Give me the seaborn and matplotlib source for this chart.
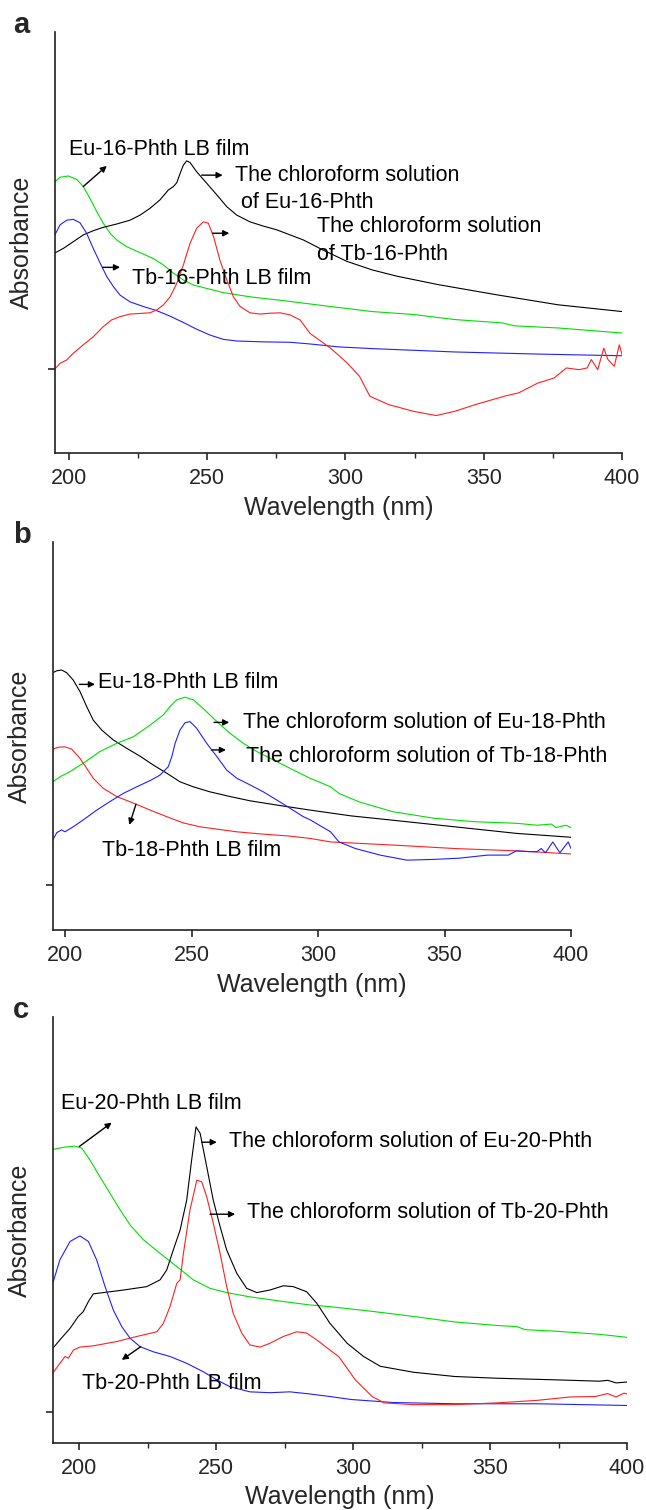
import pandas as pd
import matplotlib.pyplot as plt
import seaborn as sns
from matplotlib.ticker import MultipleLocator

# ---- panel a (x in nm, y = absorbance, arbitrary units) ----
a_eu_film_x = [194.6, 196.8, 199.8, 202.8, 205.2, 207.6, 210.1, 212.4, 214.9, 217.3, 220.9, 225.7, 230.5,
               234.1, 237.8, 241.4, 245.0, 249.8, 255.8, 265.5, 277.5, 287.2, 294.6, 309.6, 324.6, 339.5,
               356.7, 361.2, 376.9, 400]
a_eu_film_y = [0.642, 0.655, 0.658, 0.650, 0.633, 0.605, 0.573, 0.546, 0.522, 0.506, 0.490, 0.476, 0.462,
               0.447, 0.427, 0.411, 0.399, 0.391, 0.381, 0.371, 0.362, 0.354, 0.348, 0.336, 0.329, 0.317,
               0.309, 0.302, 0.297, 0.285]
a_eu_sol_x = [194.6, 198.0, 201.6, 205.2, 208.8, 212.4, 217.3, 222.1, 225.7, 229.3, 232.9, 236.0, 237.8, 239.0,
              240.2, 241.4, 242.6, 243.8, 246.2, 249.8, 253.5, 257.1, 260.7, 265.5, 270.3, 275.2, 280.0, 284.8,
              287.2, 291.6, 300.6, 309.6, 318.6, 333.5, 354.5, 376.9, 400]
a_eu_sol_y = [0.474, 0.486, 0.502, 0.518, 0.528, 0.536, 0.544, 0.553, 0.565, 0.581, 0.601, 0.625, 0.633, 0.642,
              0.664, 0.684, 0.694, 0.690, 0.668, 0.641, 0.613, 0.585, 0.565, 0.549, 0.539, 0.530, 0.518, 0.506,
              0.498, 0.483, 0.455, 0.435, 0.420, 0.400, 0.376, 0.352, 0.336]
a_tb_film_x = [194.6, 196.8, 199.2, 201.6, 204.0, 206.4, 208.8, 211.3, 213.7, 216.1, 218.5, 222.1, 226.9,
               231.8, 236.6, 241.4, 246.2, 251.1, 255.8, 260.7, 270.3, 280.0, 287.2, 297.6, 309.6, 339.5,
               369.5, 400]
a_tb_film_y = [0.514, 0.542, 0.553, 0.555, 0.547, 0.522, 0.486, 0.451, 0.419, 0.395, 0.375, 0.359, 0.348,
               0.338, 0.325, 0.310, 0.294, 0.280, 0.270, 0.266, 0.264, 0.263, 0.259, 0.252, 0.248, 0.240,
               0.235, 0.231]
a_tb_sol_x = [194.6, 196.8, 199.2, 201.6, 205.2, 208.8, 212.4, 215.4, 218.5, 222.1, 226.9, 229.3, 231.8, 234.2,
              236.6, 239.0, 241.4, 243.8, 246.2, 248.6, 250.4, 252.3, 254.6, 257.1, 259.5, 261.9, 265.5, 269.1,
              272.7, 276.3, 280.0, 283.6, 287.2, 294.6, 300.6, 305.1, 308.8, 315.6, 324.6, 332.8, 339.5, 347,
              357.5, 362.7, 369.5, 375.4, 379.9, 384.4, 387.4, 388.9, 391.2, 393.4, 394.9, 397.2, 399, 400]
a_tb_sol_y = [0.197, 0.213, 0.221, 0.237, 0.257, 0.276, 0.300, 0.316, 0.324, 0.330, 0.332, 0.333, 0.340, 0.352,
              0.371, 0.403, 0.447, 0.498, 0.534, 0.549, 0.546, 0.514, 0.458, 0.411, 0.371, 0.348, 0.333, 0.330,
              0.332, 0.333, 0.328, 0.316, 0.284, 0.249, 0.214, 0.182, 0.135, 0.115, 0.099, 0.089, 0.099, 0.115,
              0.135, 0.143, 0.166, 0.178, 0.202, 0.198, 0.202, 0.222, 0.198, 0.249, 0.222, 0.206, 0.257, 0.234]

# ---- panel b ----
b_eu_film_x = [195.0, 196.6, 198.5, 200.5, 203.1, 205.8, 208.4, 211.0, 214.4, 218.9, 224.3, 229.5, 234.8, 240.1,
               245.3, 250.6, 257.2, 265.1, 273.0, 283.6, 296.8, 313.1, 329.4, 353.9, 378.4, 400]
b_eu_film_y = [0.663, 0.668, 0.670, 0.663, 0.644, 0.614, 0.576, 0.541, 0.515, 0.490, 0.468, 0.448, 0.425, 0.404,
               0.382, 0.369, 0.356, 0.344, 0.333, 0.322, 0.309, 0.294, 0.283, 0.266, 0.249, 0.239]
b_eu_sol_x = [195.0, 197.9, 201.8, 207.1, 213.7, 220.3, 226.9, 233.5, 238.7, 241.4, 244.0, 247.3, 250.6, 254.5,
              259.9, 265.1, 270.4, 275.7, 283.6, 291.5, 296.8, 304.9, 308.2, 316.3, 329.4, 345.8, 362.1, 378.4,
              386.6, 392.3, 394, 398, 400]
b_eu_sol_y = [0.382, 0.395, 0.408, 0.430, 0.460, 0.481, 0.498, 0.528, 0.554, 0.576, 0.593, 0.600, 0.593, 0.571,
              0.537, 0.507, 0.481, 0.460, 0.434, 0.408, 0.391, 0.369, 0.352, 0.330, 0.305, 0.288, 0.279, 0.275,
              0.270, 0.273, 0.264, 0.270, 0.264]
b_tb_film_x = [195.0, 197.2, 199.8, 202.5, 205.8, 208.4, 211.0, 215.0, 220.3, 226.9, 233.5, 240.1, 246.6, 253.2,
               259.9, 267.8, 278.3, 288.8, 296.8, 304.9, 329.4, 353.9, 378.4, 400]
b_tb_film_y = [0.466, 0.471, 0.472, 0.466, 0.442, 0.417, 0.391, 0.365, 0.344, 0.327, 0.309, 0.292, 0.276, 0.266,
               0.260, 0.253, 0.247, 0.242, 0.236, 0.227, 0.219, 0.210, 0.204, 0.196]
b_tb_sol_x = [195.0, 196.6, 198.5, 199.8, 203.1, 207.1, 212.4, 217.6, 222.9, 228.2, 233.5, 237.4, 240.7, 242.1,
              243.4, 245.3, 247.3, 249.3, 251.9, 255.9, 259.9, 263.8, 267.8, 273.0, 278.3, 283.6, 288.8, 294.1,
              296.8, 304.9, 308.2, 314.7, 324.5, 335.1, 345.8, 355.6, 367, 375.2, 378.4, 383.3, 386.6, 388.2,
              389.9, 392.8, 395.6, 398.9, 400]
b_tb_sol_y = [0.232, 0.251, 0.258, 0.253, 0.266, 0.284, 0.309, 0.331, 0.352, 0.369, 0.385, 0.399, 0.421, 0.447,
              0.481, 0.515, 0.534, 0.537, 0.520, 0.481, 0.447, 0.412, 0.391, 0.374, 0.356, 0.335, 0.314, 0.292,
              0.284, 0.253, 0.227, 0.210, 0.193, 0.180, 0.182, 0.185, 0.193, 0.193, 0.204, 0.202, 0.202, 0.210,
              0.199, 0.227, 0.199, 0.227, 0.210]

# ---- panel c ----
c_eu_film_x = [190.3, 194.1, 198.4, 200.9, 203.9, 207.5, 211.2, 214.9, 218.5, 223.4, 229.5, 235.6, 241.6, 247.7,
               253.8, 262.3, 274.5, 284.2, 291.5, 306.9, 322, 337.1, 352.2, 359.8, 362.8, 374.9, 390, 400]
c_eu_film_y = [0.689, 0.694, 0.697, 0.692, 0.664, 0.625, 0.586, 0.547, 0.512, 0.477, 0.445, 0.414, 0.383, 0.363,
               0.353, 0.343, 0.332, 0.324, 0.320, 0.309, 0.297, 0.284, 0.276, 0.273, 0.266, 0.262, 0.255, 0.248]
c_eu_sol_x = [190.3, 192.9, 196.6, 199.6, 201.4, 203.3, 205.1, 208.8, 216.1, 224.6, 229.5, 231.9, 234.3, 236.8,
              239.2, 241.0, 242.6, 244.1, 246.5, 248.9, 251.4, 253.8, 257.5, 261.1, 264.8, 269.6, 274.5, 278.1,
              283.0, 286.7, 291.5, 297.8, 303.8, 309.9, 322, 337.1, 352.2, 374.8, 390, 393, 396, 400]
c_eu_sol_y = [0.222, 0.242, 0.269, 0.297, 0.308, 0.332, 0.350, 0.353, 0.359, 0.367, 0.383, 0.406, 0.453, 0.500,
              0.570, 0.664, 0.742, 0.727, 0.649, 0.570, 0.508, 0.453, 0.398, 0.363, 0.353, 0.359, 0.369, 0.367,
              0.355, 0.328, 0.281, 0.234, 0.203, 0.180, 0.166, 0.156, 0.152, 0.148, 0.145, 0.147, 0.141, 0.143]
c_tb_film_x = [190.3, 192.9, 196.6, 200.2, 203.3, 206.3, 209.4, 212.4, 215.5, 218.5, 222.2, 227.0, 233.1, 239.2,
               245.3, 250.2, 255.0, 262.3, 269.6, 276.9, 284.2, 291.5, 299.3, 314.4, 337.1, 367.2, 400]
c_tb_film_y = [0.375, 0.430, 0.473, 0.486, 0.473, 0.430, 0.367, 0.312, 0.273, 0.246, 0.226, 0.214, 0.203, 0.187,
               0.167, 0.148, 0.132, 0.120, 0.118, 0.120, 0.115, 0.109, 0.102, 0.095, 0.092, 0.092, 0.088]
c_tb_sol_x = [190.3, 192.9, 194.8, 196.0, 197.8, 200.2, 205.1, 213.6, 221.0, 228.3, 230.7, 233.1, 235.6, 236.8,
              238.0, 240.4, 242.9, 244.7, 246.5, 248.9, 251.4, 253.8, 256.2, 259.3, 262.3, 266.0, 269.6, 274.5,
              279.4, 283.0, 286.7, 291.5, 294.7, 300.8, 306.9, 311.4, 322, 337.1, 352.2, 367.2, 379.3, 388.4,
              392.9, 396, 398.9, 400]
c_tb_sol_y = [0.164, 0.187, 0.203, 0.199, 0.218, 0.225, 0.228, 0.238, 0.250, 0.261, 0.281, 0.320, 0.375, 0.383,
              0.445, 0.547, 0.617, 0.613, 0.578, 0.516, 0.445, 0.367, 0.304, 0.258, 0.230, 0.225, 0.234, 0.250,
              0.261, 0.258, 0.242, 0.218, 0.203, 0.148, 0.109, 0.094, 0.090, 0.090, 0.094, 0.100, 0.108, 0.109,
              0.116, 0.108, 0.117, 0.115]

colors_a = {'eu_film': '#00e000', 'eu_sol': '#000000', 'tb_film': '#2020ff', 'tb_sol': '#ff2020'}
colors_b = {'eu_film': '#000000', 'eu_sol': '#00e000', 'tb_film': '#ff2020', 'tb_sol': '#2020ff'}
colors_c = {'eu_film': '#00e000', 'eu_sol': '#000000', 'tb_film': '#2020ff', 'tb_sol': '#ff2020'}


def make_df(curves):
    rows = []
    for name, (xs, ys) in curves.items():
        for x, y in zip(xs, ys):
            rows.append({'Wavelength': x, 'Absorbance': y, 'series': name})
    return pd.DataFrame(rows)


panels = [
    dict(letter='a', rect=[0.0844, 0.7000, 0.8785, 0.2788], xlim=(194.8, 400), ytick=0.2, minor=True,
         colors=colors_a,
         curves={'eu_film': (a_eu_film_x, a_eu_film_y), 'eu_sol': (a_eu_sol_x, a_eu_sol_y),
                 'tb_film': (a_tb_film_x, a_tb_film_y), 'tb_sol': (a_tb_sol_x, a_tb_sol_y)},
         texts=[(200.2, 0.720, 'Eu-16-Phth LB film'),
                (260.2, 0.660, 'The chloroform solution'),
                (262.4, 0.594, 'of Eu-16-Phth'),
                (289.8, 0.538, 'The chloroform solution'),
                (289.8, 0.471, 'of Tb-16-Phth'),
                (222.7, 0.415, 'Tb-16-Phth LB film')],
         arrows=[((205.2, 0.633), (213.7, 0.682)),
                 ((248.0, 0.660), (255.6, 0.660)),
                 ((251.9, 0.522), (258.0, 0.522)),
                 ((212.2, 0.441), (218.5, 0.441))]),
    dict(letter='b', rect=[0.0813, 0.3841, 0.8026, 0.2570], xlim=(194.9, 400), ytick=0.116, minor=False,
         colors=colors_b,
         curves={'eu_film': (b_eu_film_x, b_eu_film_y), 'eu_sol': (b_eu_sol_x, b_eu_sol_y),
                 'tb_film': (b_tb_film_x, b_tb_film_y), 'tb_sol': (b_tb_sol_x, b_tb_sol_y)},
         texts=[(213.0, 0.637, 'Eu-18-Phth LB film'),
                (270.1, 0.536, 'The chloroform solution of Eu-18-Phth'),
                (271.4, 0.448, 'The chloroform solution of Tb-18-Phth'),
                (214.4, 0.206, 'Tb-18-Phth LB film')],
         arrows=[((205.5, 0.633), (211.7, 0.633)),
                 ((258.8, 0.535), (264.8, 0.535)),
                 ((257.9, 0.464), (263.5, 0.464)),
                 ((227.9, 0.324), (225.3, 0.271))]),
    dict(letter='c', rect=[0.0813, 0.0444, 0.8893, 0.2821], xlim=(190.2, 400), ytick=0.072, minor=True,
         colors=colors_c,
         curves={'eu_film': (c_eu_film_x, c_eu_film_y), 'eu_sol': (c_eu_sol_x, c_eu_sol_y),
                 'tb_film': (c_tb_film_x, c_tb_film_y), 'tb_sol': (c_tb_sol_x, c_tb_sol_y)},
         texts=[(193.4, 0.798, 'Eu-20-Phth LB film'),
                (254.5, 0.707, 'The chloroform solution of Eu-20-Phth'),
                (261.3, 0.541, 'The chloroform solution of Tb-20-Phth'),
                (200.9, 0.140, 'Tb-20-Phth LB film')],
         arrows=[((200.0, 0.696), (211.8, 0.752)),
                 ((244.7, 0.706), (250.2, 0.706)),
                 ((247.7, 0.537), (256.9, 0.537)),
                 ((222.4, 0.226), (215.5, 0.195))]),
]

sns.set_style("ticks")
plt.rcParams['font.family'] = ['Liberation Sans', 'DejaVu Sans']

fig = plt.figure(figsize=(6.46, 15.10), dpi=100)

for p in panels:
    ax = fig.add_axes(p['rect'])
    df = make_df(p['curves'])
    sns.lineplot(data=df, x='Wavelength', y='Absorbance', hue='series', palette=p['colors'],
                 estimator=None, sort=False, linewidth=0.8, legend=False, ax=ax)
    ax.set_xlim(*p['xlim'])
    ax.set_ylim(0, 1)
    ax.set_xticks([200, 250, 300, 350, 400])
    if p['minor']:
        ax.xaxis.set_minor_locator(MultipleLocator(25))
    ax.set_yticks([p['ytick']])
    ax.set_yticklabels([])
    ax.tick_params(axis='both', which='major', direction='out', length=5, width=1.2, labelsize=15.5, pad=6)
    ax.tick_params(axis='x', which='minor', direction='out', length=3.5, width=1.0)
    ax.set_xlabel('Wavelength (nm)', fontsize=18, labelpad=4.5)
    ax.set_ylabel('Absorbance', fontsize=18, labelpad=4)
    sns.despine(ax=ax)
    for s in ['left', 'bottom']:
        ax.spines[s].set_linewidth(1.2)
        ax.spines[s].set_color('#222222')
    for x, y, s in p['texts']:
        ax.text(x, y, s, fontsize=15.5, ha='left', va='center', color='black')
    for tail, head in p['arrows']:
        ax.annotate('', xy=head, xytext=tail,
                    arrowprops=dict(arrowstyle='-|>', color='black', lw=1.0, mutation_scale=9,
                                    shrinkA=0, shrinkB=0))
    top_px = (1 - (p['rect'][1] + p['rect'][3])) * 1510
    fig.text(13 / 646, 1 - (top_px - 7) / 1510, p['letter'], fontsize=21, fontweight='bold',
             ha='left', va='center')

fig.savefig('out.png', dpi=100)
